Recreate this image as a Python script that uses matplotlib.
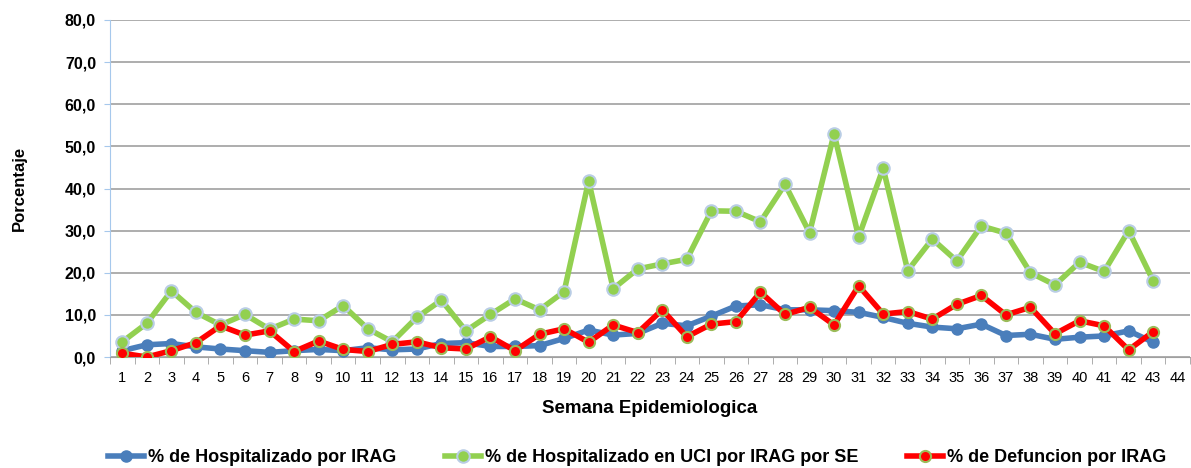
import matplotlib.pyplot as plt
from matplotlib.ticker import FuncFormatter, MultipleLocator, FixedLocator

plt.rcParams['font.family'] = ['Liberation Sans', 'DejaVu Sans']

# Semana epidemiologica 1..44 (valores hasta la semana 43)
weeks = list(range(1, 45))
hospitalizado = [1.5, 2.9, 3.2, 2.4, 1.9, 1.5, 1.1, 1.5, 1.8, 1.5, 2.2, 1.7, 1.9, 3.2, 3.4,
                 2.5, 2.5, 2.7, 4.4, 6.4, 5.2, 5.6, 8.0, 7.4, 9.7, 12.1, 12.4, 11.2, 11.2, 11.0,
                 10.6, 9.4, 8.0, 7.1, 6.7, 7.8, 5.1, 5.4, 4.2, 4.7, 5.0, 6.2, 3.5]
uci = [3.6, 8.0, 15.7, 10.6, 7.6, 10.1, 6.6, 9.0, 8.6, 12.2, 6.7, 3.6, 9.4, 13.5, 6.2,
       10.1, 13.8, 11.2, 15.5, 41.8, 16.2, 20.9, 22.1, 23.2, 34.7, 34.6, 32.1, 41.0, 29.5, 53.0,
       28.5, 44.8, 20.5, 28.0, 22.8, 31.1, 29.4, 20.0, 17.1, 22.5, 20.3, 30.0, 18.1]
defuncion = [0.9, 0.0, 1.5, 3.4, 7.4, 5.2, 6.2, 1.3, 3.8, 1.8, 1.3, 3.0, 3.6, 2.2, 1.9,
             4.8, 1.5, 5.4, 6.7, 3.5, 7.6, 5.8, 11.2, 4.8, 7.8, 8.4, 15.4, 10.1, 11.8, 7.6,
             16.9, 10.2, 10.8, 9.0, 12.5, 14.6, 10.0, 11.8, 5.5, 8.6, 7.4, 1.7, 6.0]

fig = plt.figure(figsize=(11.91, 4.68), dpi=100)
ax = fig.add_axes([110 / 1191, 1 - 357 / 468, 1080 / 1191, 337 / 468])

x = weeks[:len(hospitalizado)]
ax.plot(x, hospitalizado, color='#4a7ebb', lw=4, marker='o', ms=8,
        mfc='#4a7ebb', mec='#4a7ebb', label='% de Hospitalizado por IRAG', zorder=3)
ax.plot(x, uci, color='#92d050', lw=4, marker='o', ms=9,
        mfc='#92d050', mec='#b9cde5', mew=1.5, label='% de Hospitalizado en UCI por IRAG por SE', zorder=4)
ax.plot(x, defuncion, color='#ff0000', lw=4, marker='o', ms=8,
        mfc='#ff0000', mec='#9bbb59', mew=1.5, label='% de Defuncion por IRAG', zorder=5)

ax.set_xlim(0.5, 44.5)
ax.set_ylim(0, 80)
ax.yaxis.set_major_locator(MultipleLocator(10))
ax.yaxis.set_major_formatter(FuncFormatter(lambda v, p: f'{v:.1f}'.replace('.', ',')))
ax.set_xticks(weeks)
ax.xaxis.set_minor_locator(FixedLocator([w + 0.5 for w in [0] + weeks]))
ax.tick_params(axis='x', which='major', length=0, labelsize=10.5, pad=10)
ax.tick_params(axis='x', which='minor', length=5, color='#a0a0a0', direction='out')
ax.tick_params(axis='y', length=4, color='#a6c8ec', labelsize=11.5, pad=6)
for lab in ax.get_yticklabels():
    lab.set_fontweight('bold')

ax.grid(axis='y', color='#a0a0a0', lw=1.2)
ax.set_axisbelow(True)
for s in ['top', 'right']:
    ax.spines[s].set_visible(False)
ax.spines['left'].set_color('#a6c8ec')
ax.spines['bottom'].set_color('#a0a0a0')

ax.set_xlabel('Semana Epidemiologica', fontsize=13.5, fontweight='bold', labelpad=11)
ax.set_ylabel('Porcentaje', fontsize=12, fontweight='bold')
ax.yaxis.set_label_coords(-0.077, 0.5)

fig.legend(loc='lower center', bbox_to_anchor=(0.535, -0.012), ncol=3, frameon=False,
           prop={'size': 13, 'weight': 'bold'}, handlelength=2.0, handletextpad=0.2,
           columnspacing=2.7, borderaxespad=0)

fig.savefig('out.png', dpi=100)
